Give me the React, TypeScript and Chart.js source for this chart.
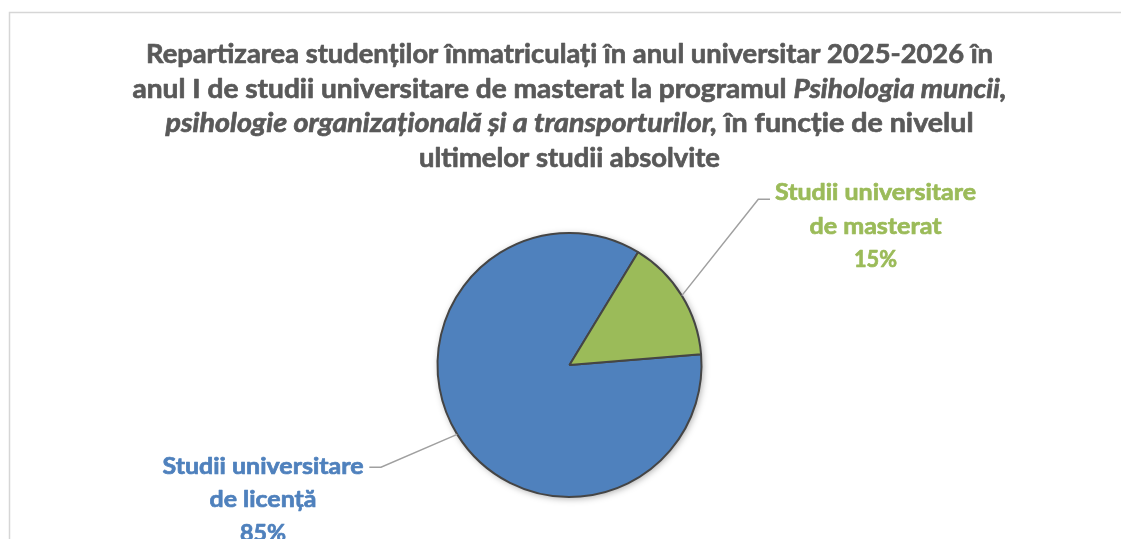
import React, { useEffect, useRef } from 'react';
import { Chart, registerables } from 'chart.js';

Chart.register(...registerables);

// ---- data ----
const categories = ['Studii universitare de licență', 'Studii universitare de masterat'];
const categoryLines = [
  ['Studii universitare', 'de licență'],
  ['Studii universitare', 'de masterat'],
];
const values = [85, 15];
const colors = ['#4F81BD', '#9BBB59'];

type Seg = { t: string; i: boolean };
const titleLines: Seg[][] = [
  [{ t: 'Repartizarea studenților înmatriculați în anul universitar 2025-2026 în', i: false }],
  [
    { t: 'anul I de studii universitare de masterat la programul ', i: false },
    { t: 'Psihologia muncii,', i: true },
  ],
  [
    { t: 'psihologie organizațională și a transporturilor,', i: true },
    { t: ' în funcție de nivelul', i: false },
  ],
  [{ t: 'ultimelor studii absolvite', i: false }],
];

// ---- layout (not data) ----
const FONT = 'Lato, "Open Sans", "Noto Sans", sans-serif';
const TITLE_SIZE = 27;
const LABEL_SIZE = 23;
const TITLE_CX = 569.5;
const TITLE_BASES = [63, 97.5, 132, 166.5];
const TITLE_WIDTHS = [847, 874, 808, 301];
const LABEL_LAYOUT = [
  { cx: 263, bases: [473.5, 507, 540.5], widths: [201, 107, 46], elbow: [381, 467.3], end: [369.3, 467.3] },
  { cx: 875.5, bases: [200, 233.5, 267], widths: [201, 132, 43], elbow: [758.3, 199.3], end: [770, 199.3] },
];

function drawLine(
  ctx: CanvasRenderingContext2D,
  segs: Seg[],
  cx: number,
  base: number,
  size: number,
  targetW: number,
  color: string
) {
  const fontFor = (s: Seg) => `${s.i ? 'italic ' : ''}bold ${size}px ${FONT}`;
  const widths = segs.map((s) => {
    ctx.font = fontFor(s);
    return ctx.measureText(s.t).width;
  });
  const total = widths.reduce((a, b) => a + b, 0);
  let sx = targetW / total;
  sx = Math.max(0.7, Math.min(1.15, sx));
  ctx.save();
  ctx.translate(cx - (total * sx) / 2, base);
  ctx.scale(sx, 1);
  ctx.fillStyle = color;
  ctx.strokeStyle = color;
  ctx.lineWidth = 0.7;
  ctx.lineJoin = 'round';
  ctx.textAlign = 'left';
  ctx.textBaseline = 'alphabetic';
  let x = 0;
  segs.forEach((s, k) => {
    ctx.font = fontFor(s);
    ctx.fillText(s.t, x, 0);
    ctx.strokeText(s.t, x, 0);
    x += widths[k];
  });
  ctx.restore();
}

const decorPlugin = {
  id: 'decor',
  beforeDraw(chart: any) {
    const ctx: CanvasRenderingContext2D = chart.ctx;
    ctx.save();
    ctx.fillStyle = '#ffffff';
    ctx.fillRect(0, 0, chart.width, chart.height);
    ctx.strokeStyle = '#d6d6d6';
    ctx.lineWidth = 1.5;
    ctx.beginPath();
    ctx.moveTo(9.5, chart.height + 2);
    ctx.lineTo(9.5, 12.5);
    ctx.lineTo(chart.width + 2, 12.5);
    ctx.stroke();
    ctx.restore();
    titleLines.forEach((segs, k) => {
      drawLine(ctx, segs, TITLE_CX, TITLE_BASES[k], TITLE_SIZE, TITLE_WIDTHS[k], '#595959');
    });
  },
  beforeDatasetsDraw(chart: any) {
    const meta = chart.getDatasetMeta(0);
    const a = meta.data[0];
    if (!a) return;
    const ctx: CanvasRenderingContext2D = chart.ctx;
    ctx.save();
    ctx.shadowColor = 'rgba(0,0,0,0.35)';
    ctx.shadowBlur = 7;
    ctx.shadowOffsetX = 1.5;
    ctx.shadowOffsetY = 1.5;
    ctx.fillStyle = '#ffffff';
    ctx.beginPath();
    ctx.arc(a.x, a.y, a.outerRadius, 0, Math.PI * 2);
    ctx.fill();
    ctx.restore();
  },
  afterDatasetsDraw(chart: any) {
    const ctx: CanvasRenderingContext2D = chart.ctx;
    const meta = chart.getDatasetMeta(0);
    const data: number[] = chart.data.datasets[0].data;
    const sum = data.reduce((s, v) => s + v, 0);
    meta.data.forEach((arc: any, i: number) => {
      const L = LABEL_LAYOUT[i];
      const mid = (arc.startAngle + arc.endAngle) / 2;
      const ex = arc.x + Math.cos(mid) * arc.outerRadius;
      const ey = arc.y + Math.sin(mid) * arc.outerRadius;
      ctx.save();
      ctx.strokeStyle = '#a0a0a0';
      ctx.lineWidth = 1.5;
      ctx.beginPath();
      ctx.moveTo(ex, ey);
      ctx.lineTo(L.elbow[0], L.elbow[1]);
      ctx.lineTo(L.end[0], L.end[1]);
      ctx.stroke();
      ctx.restore();
      const lines = [...categoryLines[i], Math.round((data[i] / sum) * 100) + '%'];
      lines.forEach((t, k) => {
        drawLine(ctx, [{ t, i: false }], L.cx, L.bases[k], LABEL_SIZE, L.widths[k], colors[i]);
      });
    });
  },
};

export default function App() {
  const ref = useRef<HTMLCanvasElement | null>(null);
  useEffect(() => {
    if (!ref.current) return;
    const chart = new Chart(ref.current, {
      type: 'pie',
      data: {
        labels: categories,
        datasets: [
          {
            data: values,
            backgroundColor: colors,
            borderColor: '#454545',
            borderWidth: 2,
            radius: 132,
            rotation: 85.3,
          } as any,
        ],
      },
      options: {
        responsive: true,
        maintainAspectRatio: false,
        animation: false,
        rotation: 85.3,
        layout: { padding: { left: 18, right: 0, top: 200, bottom: 9 } },
        plugins: {
          legend: { display: false },
          title: { display: false },
          tooltip: { enabled: false },
        },
      } as any,
      plugins: [decorPlugin],
    });
    return () => chart.destroy();
  }, []);
  return (
    <div style={{ position: 'fixed', left: 0, top: 0, width: '1121px', height: '539px', background: '#fff' }}>
      <canvas ref={ref} />
    </div>
  );
}
